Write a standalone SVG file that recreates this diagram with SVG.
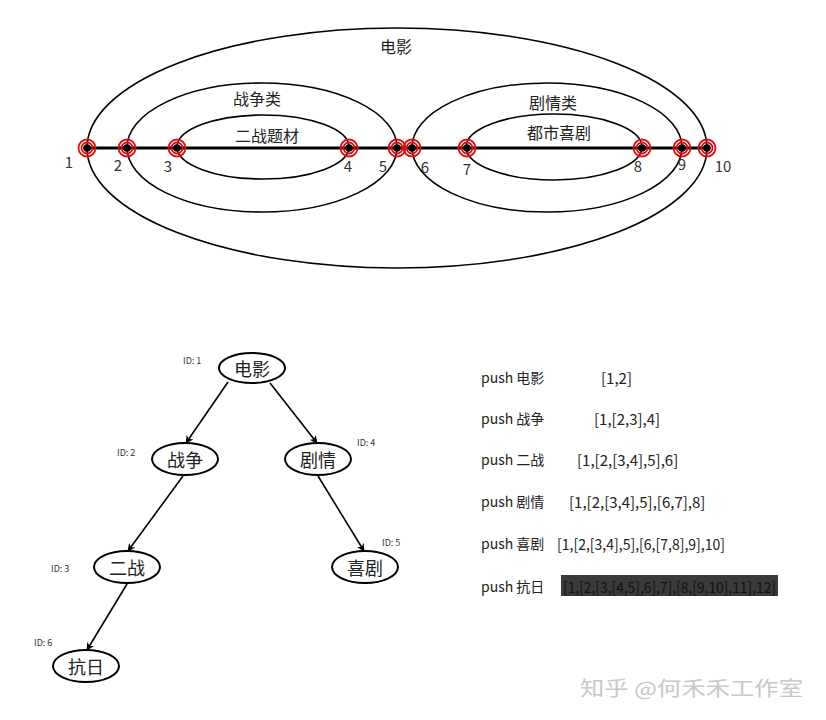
<svg xmlns="http://www.w3.org/2000/svg" width="826" height="720" viewBox="0 0 826 720">
<defs>
<style>
text{font-family:"Noto Sans CJK SC","Noto Sans",sans-serif;fill:#222}
.set{fill:none;stroke:#000;stroke-width:1.6}
.lbl{font-size:16px;text-anchor:middle;dominant-baseline:central}
.num{font-size:15px;text-anchor:middle;dominant-baseline:central;fill:#333}
.ring{fill:none;stroke:#e01010;stroke-width:1.8}
.node ellipse{fill:#fff;stroke:#000;stroke-width:2}
.node text.t{font-size:18px;text-anchor:middle;dominant-baseline:central}
.node text.id{font-size:9px;dominant-baseline:central;fill:#333}
.edge{stroke:#000;stroke-width:1.6;fill:none;marker-end:url(#arr)}
.cmd{font-size:14px;dominant-baseline:central}
.res{font-size:15px;dominant-baseline:central}
</style>
<marker id="arr" viewBox="0 0 10 10" refX="9" refY="5" markerWidth="8" markerHeight="8" orient="auto" markerUnits="userSpaceOnUse">
<path d="M0,0 L10,5 L0,10 L3,5 Z" fill="#000"/>
</marker>
<g id="pt">
<circle r="8.5" class="ring" fill="#fdeaea"/>
<circle r="5.5" class="ring"/>
<circle r="3.8" fill="#000"/>
</g>
</defs>
<rect width="826" height="720" fill="#fff"/>

<g id="sets">
<ellipse class="set" cx="397" cy="148" rx="310" ry="120"/>
<ellipse class="set" cx="262" cy="147.5" rx="135" ry="64.5"/>
<ellipse class="set" cx="263" cy="147" rx="86" ry="32"/>
<ellipse class="set" cx="547" cy="147.5" rx="135" ry="64.5"/>
<ellipse class="set" cx="554" cy="147" rx="88" ry="33"/>
<text class="lbl" x="396" y="46">电影</text>
<text class="lbl" x="257" y="98">战争类</text>
<text class="lbl" x="267" y="135">二战题材</text>
<text class="lbl" x="553" y="102">剧情类</text>
<text class="lbl" x="559" y="132">都市喜剧</text>
</g>

<g id="line">
<line x1="87" y1="148" x2="707" y2="148" stroke="#000" stroke-width="3"/>
<use href="#pt" x="87" y="148"/>
<use href="#pt" x="127" y="148"/>
<use href="#pt" x="177" y="148"/>
<use href="#pt" x="349" y="148"/>
<use href="#pt" x="397" y="148"/>
<use href="#pt" x="412" y="148"/>
<use href="#pt" x="467" y="148"/>
<use href="#pt" x="642" y="148"/>
<use href="#pt" x="682" y="148"/>
<use href="#pt" x="707" y="148"/>
<text class="num" x="69" y="161">1</text>
<text class="num" x="118" y="164">2</text>
<text class="num" x="168" y="165">3</text>
<text class="num" x="348" y="165">4</text>
<text class="num" x="383" y="165">5</text>
<text class="num" x="425" y="166">6</text>
<text class="num" x="467" y="168">7</text>
<text class="num" x="638" y="165">8</text>
<text class="num" x="682" y="163">9</text>
<text class="num" x="723" y="165">10</text>
</g>

<g id="connectors">
<line class="edge" x1="228" y1="382" x2="186" y2="443"/>
<line class="edge" x1="270" y1="383" x2="317" y2="443"/>
<line class="edge" x1="183" y1="476" x2="128" y2="551"/>
<line class="edge" x1="318" y1="476" x2="364" y2="551"/>
<line class="edge" x1="127" y1="584" x2="87" y2="650"/>
</g>

<g id="n1" class="node"><ellipse cx="252" cy="368" rx="33" ry="15"/><text class="t" x="252" y="368">电影</text><text class="id" x="183" y="360">ID: 1</text></g>
<g id="n2" class="node"><ellipse cx="185" cy="459" rx="33" ry="16"/><text class="t" x="185" y="459">战争</text><text class="id" x="117" y="452">ID: 2</text></g>
<g id="n4" class="node"><ellipse cx="318" cy="459" rx="33" ry="16"/><text class="t" x="318" y="459">剧情</text><text class="id" x="357" y="442">ID: 4</text></g>
<g id="n3" class="node"><ellipse cx="127" cy="567" rx="33" ry="16"/><text class="t" x="127" y="567">二战</text><text class="id" x="51" y="568">ID: 3</text></g>
<g id="n5" class="node"><ellipse cx="365" cy="567" rx="33" ry="16"/><text class="t" x="365" y="567">喜剧</text><text class="id" x="382" y="542">ID: 5</text></g>
<g id="n6" class="node"><ellipse cx="86" cy="666" rx="33" ry="16"/><text class="t" x="86" y="666">抗日</text><text class="id" x="34" y="642">ID: 6</text></g>

<g id="steps">
<text class="cmd" x="481" y="377">push 电影</text><text class="res" x="601" y="377">[1,2]</text>
<text class="cmd" x="481" y="418">push 战争</text><text class="res" x="594" y="418">[1,[2,3],4]</text>
<text class="cmd" x="481" y="459">push 二战</text><text class="res" x="577" y="459">[1,[2,[3,4],5],6]</text>
<text class="cmd" x="481" y="501">push 剧情</text><text class="res" x="569" y="501">[1,[2,[3,4],5],[6,7],8]</text>
<text class="cmd" x="481" y="543">push 喜剧</text><text class="res" x="557" y="543" textLength="168" lengthAdjust="spacingAndGlyphs">[1,[2,[3,4],5],[6,[7,8],9],10]</text>
<text class="cmd" x="481" y="586">push 抗日</text>
<rect x="561" y="575" width="217" height="21" fill="#3a3a3a"/>
<text class="res" x="563" y="586" textLength="213" lengthAdjust="spacingAndGlyphs" style="fill:#111">[1,[2,[3,[4,5],6],7],[8,[9,10],11],12]</text>
</g>

<text x="580" y="687" style="font-size:20px;fill:#c8c8c8;dominant-baseline:central" textLength="223" lengthAdjust="spacingAndGlyphs">知乎 @何禾禾工作室</text>
</svg>
